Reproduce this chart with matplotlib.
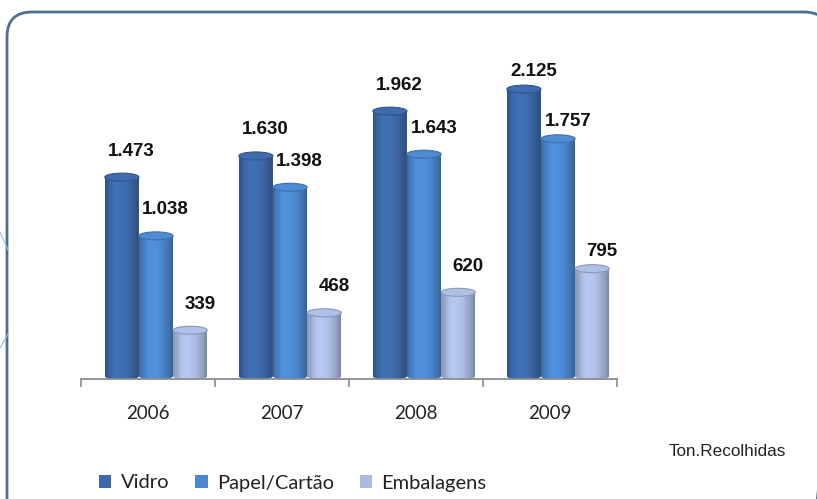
import matplotlib
matplotlib.use("Agg")
import matplotlib.pyplot as plt
import numpy as np
from matplotlib import font_manager
from matplotlib.patches import Ellipse, Patch, PathPatch, FancyBboxPatch
from matplotlib.path import Path
from matplotlib.colors import to_rgb

# data
years = ["2006", "2007", "2008", "2009"]
series = ["Vidro", "Papel/Cartão", "Embalagens"]
vidro = [1473, 1630, 1962, 2125]
papel = [1038, 1398, 1643, 1757]
embalagens = [339, 468, 620, 795]
value_labels = [
    ["1.473", "1.630", "1.962", "2.125"],
    ["1.038", "1.398", "1.643", "1.757"],
    ["339", "468", "620", "795"],
]
colors = ["#3C69A9", "#4B87CF", "#AABBE0"]
unit_note = "Ton.Recolhidas"

# font for value labels: narrow bold if available
try:
    font_manager.findfont("Liberation Sans Narrow", fallback_to_default=False)
    lbl_family, lbl_size = "Liberation Sans Narrow", 15
except Exception:
    lbl_family, lbl_size = "Liberation Sans", 13.5

W, H = 817, 499
fig = plt.figure(figsize=(W / 100, H / 100), dpi=100)
fig.patch.set_facecolor("white")

# background axes in pixel units for the rounded frame and decorative lines
bg = fig.add_axes([0, 0, 1, 1], zorder=-1)
bg.set_xlim(0, W)
bg.set_ylim(H, 0)
bg.axis("off")
bg.add_patch(FancyBboxPatch((7, 12), 822, 540, boxstyle="round,pad=0,rounding_size=25",
                            fill=False, edgecolor="#4F6E93", linewidth=2))
bg.plot([0, 8], [232, 250], color="#8CC4E8", lw=0.8)
bg.plot([0, 8], [348, 334], color="#8CC4E8", lw=0.8)

ax_left, ax_right = 81, 617
ax_top, ax_bottom = 60, 379
ax = fig.add_axes([ax_left / W, 1 - ax_bottom / H, (ax_right - ax_left) / W,
                   (ax_bottom - ax_top) / H])
ax.set_facecolor("none")

px_per_unit = 0.135
ymin = -3 / px_per_unit
ymax = ymin + (ax_bottom - ax_top) / px_per_unit
ax.set_xlim(-0.5, 3.5)
ax.set_ylim(ymin, ymax)

bar_w = 0.255
offsets = [-0.195, 0.06, 0.315]
ell_h = 8 / px_per_unit
n_strips = 30


def shade(t):
    # brightness profile across the cylinder
    peak = 0.38
    if t < peak:
        return 1.07 - 0.32 * ((peak - t) / peak) ** 2
    return 1.07 - 0.36 * ((t - peak) / (1 - peak)) ** 2


def cylinder(x, h, color):
    base = np.array(to_rgb(color))
    l, r = x - bar_w / 2, x + bar_w / 2
    # outline: body + lower half ellipse, used as clip
    theta = np.linspace(np.pi, 2 * np.pi, 40)
    arc = np.column_stack([x + bar_w / 2 * np.cos(theta), ell_h / 2 * np.sin(theta)])
    verts = np.vstack([[l, h], [l, 0], arc, [r, h], [l, h]])
    clip = PathPatch(Path(verts), transform=ax.transData, facecolor="none", edgecolor="none")
    ax.add_patch(clip)
    sw = bar_w / n_strips
    for i in range(n_strips):
        t = (i + 0.5) / n_strips
        c = np.clip(base * shade(t), 0, 1)
        b = ax.bar(l + i * sw, h + ell_h, width=sw * 1.05, bottom=-ell_h, align="edge",
                   color=c, linewidth=0, zorder=2)
        b[0].set_clip_path(clip)
    top = Ellipse((x, h), bar_w, ell_h, facecolor=np.clip(base * 1.03, 0, 1),
                  edgecolor=np.clip(base * 0.82, 0, 1), linewidth=0.8, zorder=3)
    ax.add_patch(top)


data = [vidro, papel, embalagens]
x = np.arange(len(years))
for s, vals in enumerate(data):
    for i, v in enumerate(vals):
        xc = x[i] + offsets[s]
        cylinder(xc, v, colors[s])
        gap = 12.5 if i == len(years) - 1 else 18.7
        ax.annotate(value_labels[s][i], (xc, v), xytext=(7, gap), textcoords="offset points",
                    ha="center", va="center", fontsize=lbl_size, fontweight="bold",
                    family=lbl_family, color="#111111", zorder=5, annotation_clip=False)

for sp in ["left", "right", "top"]:
    ax.spines[sp].set_visible(False)
ax.spines["bottom"].set_color("#8C8C8C")
ax.spines["bottom"].set_linewidth(1.3)
ax.spines["bottom"].set_position(("data", ymin))
ax.set_yticks([])
ax.set_xticks(x)
ax.set_xticklabels(years, family="Lato", fontsize=13.5, color="#222222")
ax.tick_params(axis="x", which="major", length=0, pad=19)
ax.set_xticks(np.arange(-0.5, 4, 1), minor=True)
ax.tick_params(axis="x", which="minor", length=6, width=1.2, color="#8C8C8C")

fig.text(727 / W, 1 - 451 / H, unit_note, family="Liberation Sans", fontsize=12.3,
         color="#222222", ha="center", va="center")

handles = [Patch(facecolor=c, edgecolor="none") for c in colors]
fig.legend(handles, series, loc="center left", bbox_to_anchor=(99 / W, 1 - 483 / H),
           ncol=3, frameon=False, prop={"family": "Lato", "size": 14.5},
           handlelength=0.62, handleheight=0.62, handletextpad=0.45,
           columnspacing=1.3, borderpad=0, borderaxespad=0, labelcolor="#222222")

fig.savefig("out.png", dpi=100, facecolor="white")
